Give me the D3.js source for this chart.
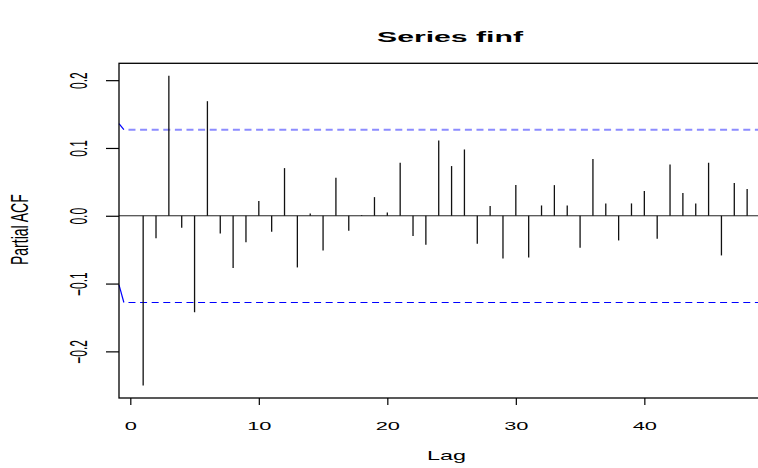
<!DOCTYPE html>
<html>
  <head>
    <meta charset="utf-8">
    <title>Series finf</title>
    <script src="https://cdn.jsdelivr.net/npm/d3@7"></script>
    <style>
      body { margin: 0; background: #fff; }
      #chart { display: block; font-family: "Liberation Sans", Arial, sans-serif; }
      .axis path.domain { display: none; }
    </style>
  </head>

  <body>
    <svg id="chart" width="758" height="468">
      <text id="title"></text>
      <g id="limitGroup"></g>
      <g id="barGroup"></g>
      <g id="xAxisGroup" class="axis"></g>
      <g id="yAxisGroup" class="axis"></g>
      <rect id="box"></rect>
      <text id="xLabel"></text>
      <text id="yLabel"></text>
    </svg>

    <script>
      // data
      var lags = [1, 2, 3, 4, 5, 6, 7, 8, 9, 10, 11, 12, 13, 14, 15, 16,
        17, 18, 19, 20, 21, 22, 23, 24, 25, 26, 27, 28, 29, 30, 31, 32,
        33, 34, 35, 36, 37, 38, 39, 40, 41, 42, 43, 44, 45, 46, 47, 48];
      var pacf = [-0.2505, -0.033, 0.2066, -0.0175, -0.1423, 0.169, -0.026, -0.077,
        -0.039, 0.0216, -0.0236, 0.0703, -0.0762, 0.0034, -0.0511, 0.056,
        -0.0221, 0.001, 0.0275, 0.0049, 0.0782, -0.030, -0.0428, 0.111,
        0.0733, 0.0978, -0.0413, 0.0143, -0.0629, 0.0452, -0.0615, 0.0152,
        0.0452, 0.0152, -0.0472, 0.0836, 0.0182, -0.0364, 0.0182, 0.0364,
        -0.0339, 0.0757, 0.0334, 0.0182, 0.0782, -0.0585, 0.0482, 0.0393];
      var confLimit = 0.127;
      // odd little kink where the limit lines start
      var limitStart = [0.136, -0.102];
      var xTicks = [0, 10, 20, 30, 40];
      var yTicks = [-0.2, -0.1, 0.0, 0.1, 0.2];

      // page elements
      chart = d3.select("#chart");
      title = d3.select("#title");
      limitGroup = d3.select("#limitGroup");
      barGroup = d3.select("#barGroup");
      xAxisGroup = d3.select("#xAxisGroup");
      yAxisGroup = d3.select("#yAxisGroup");
      box = d3.select("#box");

      margin = {
        top: 63.3,
        right: -13.3,
        bottom: 70,
        left: 119
      };
      width = 758;
      height = 468;

      // R style 4% padding on both scales
      function pad(ext) {
        var d = (ext[1] - ext[0]) * 0.04;
        return [ext[0] - d, ext[1] + d];
      }

      x = d3.scaleLinear()
        .domain(pad(d3.extent(lags)))
        .range([margin.left, width - margin.right]);
      y = d3.scaleLinear()
        .domain(pad(d3.extent(pacf.concat([confLimit, -confLimit]))))
        .range([height - margin.bottom, margin.top]);

      // limit lines
      [confLimit, -confLimit].forEach(function(v, i) {
        var yy = i == 0 ? y(v) : Math.round(y(v)) + 0.5;
        limitGroup.append("line")
          .attr("x1", x.range()[0])
          .attr("x2", x(-0.5))
          .attr("y1", y(limitStart[i]))
          .attr("y2", yy)
          .attr("stroke", "#0000ff")
          .attr("stroke-width", 1.2);
        limitGroup.append("line")
          .attr("x1", x(-0.5))
          .attr("x2", x.range()[1])
          .attr("y1", yy)
          .attr("y2", yy)
          .attr("stroke", i == 0 ? "#8c8cff" : "#0000ff")
          .attr("stroke-width", i == 0 ? 2 : 1)
          .attr("stroke-dasharray", "7,4.6")
          .attr("stroke-dashoffset", 7);
      });

      // zero line
      barGroup.append("line")
        .attr("x1", x.range()[0])
        .attr("x2", x.range()[1])
        .attr("y1", y(0))
        .attr("y2", y(0))
        .attr("stroke", "#222")
        .attr("stroke-width", 1);

      // spikes
      barGroup.selectAll(".spike")
          .data(lags)
        .enter().append("line")
          .attr("class", "spike")
          .attr("x1", function(d) { return x(d); })
          .attr("x2", function(d) { return x(d); })
          .attr("y1", y(0))
          .attr("y2", function(d, i) { return y(pacf[i]); })
          .attr("stroke", "#111")
          .attr("stroke-width", 1.3);

      // axes
      xAxis = d3.axisBottom(x)
        .tickValues(xTicks)
        .tickSize(7)
        .tickFormat(d3.format("d"));
      yAxis = d3.axisLeft(y)
        .tickValues(yTicks)
        .tickSize(13)
        .tickFormat(d3.format(".1f"));

      xAxisGroup.attr("transform", "translate(0, " + (height - margin.bottom) + ")")
        .call(xAxis);
      xAxisGroup.selectAll(".tick line")
        .attr("stroke", "#000")
        .attr("stroke-width", 1.2);
      xAxisGroup.selectAll(".tick text")
        .attr("fill", "#000")
        .attr("font-size", 11.5)
        .attr("font-family", "Liberation Sans, Arial, sans-serif")
        .attr("dy", null)
        .attr("y", 0)
        .attr("transform", "translate(0, 31.5) scale(1.9, 1)");

      yAxisGroup.attr("transform", "translate(" + margin.left + ", 0)")
        .call(yAxis);
      yAxisGroup.selectAll(".tick line")
        .attr("stroke", "#000")
        .attr("stroke-width", 1.2);
      yAxisGroup.selectAll(".tick text")
        .attr("fill", "#000")
        .attr("font-size", 12)
        .attr("font-family", "Liberation Sans, Arial, sans-serif")
        .attr("text-anchor", "middle")
        .attr("x", null)
        .attr("dy", null)
        .attr("transform", "translate(-32, 0) rotate(-90) scale(1, 2)");

      // plot frame
      box.attr("x", margin.left)
        .attr("y", margin.top)
        .attr("width", width - margin.right - margin.left)
        .attr("height", height - margin.bottom - margin.top)
        .attr("fill", "none")
        .attr("stroke", "#000")
        .attr("stroke-width", 1.3);

      // titles
      title.text("Series  finf")
        .attr("text-anchor", "middle")
        .attr("font-weight", "bold")
        .attr("font-size", 15.5)
        .attr("transform", "translate(450, 42) scale(1.95, 1)");
      d3.select("#xLabel").text("Lag")
        .attr("text-anchor", "middle")
        .attr("font-size", 12)
        .attr("transform", "translate(446.5, 460) scale(1.95, 1)");
      d3.select("#yLabel").text("Partial ACF")
        .attr("text-anchor", "middle")
        .attr("font-size", 12.5)
        .attr("transform", "translate(28, " + ((margin.top + height - margin.bottom) / 2 - 1) + ") rotate(-90) scale(1.12, 1.9)");
    </script>
  </body>
</html>
